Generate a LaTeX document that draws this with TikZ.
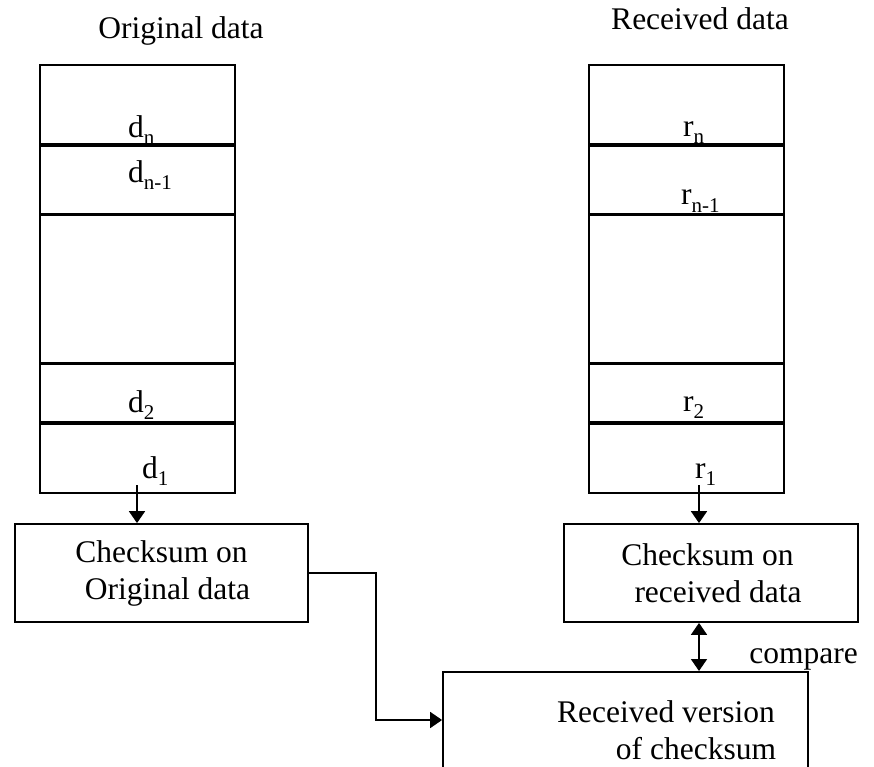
\documentclass[tikz,border=0pt]{standalone}
\usepackage{fontspec}
\setmainfont{Liberation Serif}
\usetikzlibrary{arrows.meta}
\newcommand{\sub}[2]{#1\raisebox{-7pt}{\fontsize{21}{21}\selectfont #2}}
\begin{document}
\begin{tikzpicture}[x=1pt,y=-1pt,
  every node/.style={font=\fontsize{31.5}{37}\selectfont},
  cell/.style={draw,line width=1.8pt,minimum width=195pt,inner sep=0pt,anchor=north},
  box/.style={draw,line width=1.8pt,inner sep=0pt,align=center},
  lbl/.style={anchor=base west,inner sep=0pt},
  ttl/.style={anchor=base,inner sep=0pt},
  arr/.style={line width=1.8pt,-{Triangle[length=12pt,width=16pt]}},
  dbl/.style={line width=1.8pt,{Triangle[length=12pt,width=16pt]}-{Triangle[length=12pt,width=16pt]}}]
\useasboundingbox (0,0) rectangle (874,767);
\clip (0,0) rectangle (874,767);
% titles
\node[ttl] (t1) at (181,39) {Original data};
\node[ttl] (t2) at (700,30) {Received data};
% left stack
\node[cell,minimum height=79pt] (l1) at (137.5,64) {};
\node[cell,minimum height=68pt] (l2) at (l1.south) {};
\node[cell,minimum height=147pt] (l3) at (l2.south) {};
\node[cell,minimum height=58pt] (l4) at (l3.south) {};
\node[cell,minimum height=69pt] (l5) at (l4.south) {};
% right stack
\node[cell,minimum height=79pt] (r1) at (686.5,64) {};
\node[cell,minimum height=68pt] (r2) at (r1.south) {};
\node[cell,minimum height=147pt] (r3) at (r2.south) {};
\node[cell,minimum height=58pt] (r4) at (r3.south) {};
\node[cell,minimum height=69pt] (r5) at (r4.south) {};
% labels
\node[lbl] (dn) at (128,138) {\sub{d}{n}};
\node[lbl] (dn1) at (128,183) {\sub{d}{n-1}};
\node[lbl] (d2) at (128,412) {\sub{d}{2}};
\node[lbl] (d1) at (142,478) {\sub{d}{1}};
\node[lbl] (rn) at (683,137) {\sub{r}{n}};
\node[lbl] (rn1) at (681,205) {\sub{r}{n-1}};
\node[lbl] (r2l) at (683,411) {\sub{r}{2}};
\node[lbl] (r1l) at (695,478) {\sub{r}{1}};
% checksum boxes
\node[box,minimum width=293pt,minimum height=98pt] (cl) at (161.5,573) {Checksum on\\\hspace*{12pt}Original data};
\node[box,minimum width=294pt,minimum height=98pt] (cr) at (711,573) {\hspace*{-7pt}Checksum on\\\hspace*{14pt}received data};
% received version box (cut off at bottom)
\node[draw,line width=1.8pt,minimum width=365pt,minimum height=140pt,anchor=north,inner sep=0pt] (rv) at (625.5,671) {};
\node[ttl] (rvt1) at (666,722) {Received version};
\node[ttl] (rvt2) at (696,759) {of checksum};
\node[anchor=base east,inner sep=0pt] (cmp) at (858,663) {compare};
% connectors
\coordinate (la) at (137,485);
\coordinate (ra) at (699,485);
\draw[arr] (la) -- (la |- cl.north);
\draw[arr] (ra) -- (ra |- cr.north);
\draw[dbl] (ra |- cr.south) -- (ra |- rv.north);
\coordinate (bend) at (376,720);
\draw[arr] (cl.east) -| (bend) -- (bend -| rv.west);
\end{tikzpicture}
\end{document}
